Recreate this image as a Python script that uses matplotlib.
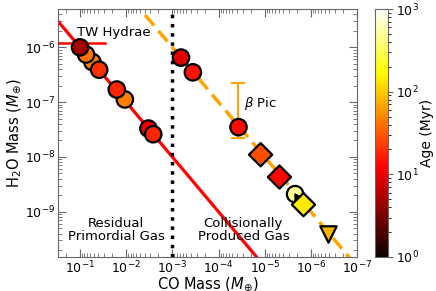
import numpy as np
import matplotlib
matplotlib.use("Agg")
import matplotlib.pyplot as plt
from matplotlib.colors import LogNorm

plt.rcParams["font.family"] = ["DejaVu Sans"]
plt.rcParams["mathtext.fontset"] = "dejavusans"

# residual primordial gas (left of the dotted line)
prim_co = [3.3e-3, 2.6e-3, 1.07e-2, 1.6e-2, 5.4e-2, 7.4e-2, 3.85e-2, 1.0e-1]
prim_h2o = [3.3e-8, 2.6e-8, 1.12e-7, 1.7e-7, 5.4e-7, 7.4e-7, 3.9e-7, 1.0e-6]
prim_age = [11, 18, 45, 18, 45, 40, 20, 5]

# collisionally produced gas, circles
coll_co = [6.5e-4, 3.6e-4, 3.7e-5, 2.2e-6]
coll_h2o = [6.5e-7, 3.5e-7, 3.5e-8, 2.1e-9]
coll_age = [9, 15, 14, 470]

# diamonds
dia_co = [1.23e-5, 4.8e-6, 1.45e-6]
dia_h2o = [1.1e-8, 4.3e-9, 1.35e-9]
dia_age = [28, 13, 140]

# triangle
tri_co = [4.2e-7]
tri_h2o = [3.9e-10]
tri_age = [78]

# small black marker
blk_co = [1.9e-6]
blk_h2o = [1.9e-9]

# TW Hydrae bar and beta Pic error bar
twh_co = [0.3, 0.029]
twh_h2o = [1.2e-6, 1.2e-6]
bpic_co = 3.7e-5
bpic_h2o = 3.5e-8
bpic_err_lo = 1.3e-8
bpic_err_hi = 1.85e-7

norm = LogNorm(vmin=1, vmax=1000)
cmap = "hot"

fig = plt.figure(figsize=(4.36, 2.91), dpi=100)
ax = fig.add_axes([0.133, 0.117, 0.686, 0.852])
cax = fig.add_axes([0.860, 0.117, 0.030, 0.852])

xs = np.logspace(0, -8, 50)
ax.plot(xs, 1e-5 * xs, color="red", lw=2.3, zorder=2)
ax.plot(xs, 1e-3 * xs, color="orange", lw=2.5, ls=(0, (4, 2)), zorder=2)
ax.axvline(1e-3, color="black", lw=2.5, ls=":", zorder=2)

ax.plot(twh_co, twh_h2o, color="red", lw=1.8, zorder=3)
ax.errorbar([bpic_co], [bpic_h2o], yerr=[[bpic_err_lo], [bpic_err_hi]],
            fmt="none", ecolor="orange", elinewidth=1.5, capsize=5, capthick=1.5, zorder=3)

kw = dict(cmap=cmap, norm=norm, s=140, edgecolors="black", linewidths=1.6, zorder=4)
sc = ax.scatter(prim_co, prim_h2o, c=prim_age, marker="o", **kw)
ax.scatter(coll_co, coll_h2o, c=coll_age, marker="o", **kw)
ax.scatter(blk_co, blk_h2o, color="black", marker=">", s=25, zorder=4)
ax.scatter(dia_co, dia_h2o, c=dia_age, marker="D", **kw)
ax.scatter(tri_co, tri_h2o, c=tri_age, marker="v", **kw)

ax.set_xscale("log")
ax.set_yscale("log")
ax.set_xlim(0.3, 1e-7)
ax.set_ylim(1.5e-10, 5e-6)

ax.text(0.118, 1.85e-6, "TW Hydrae", fontsize=9.5, ha="left", va="center")
ax.text(2.8e-5, 9.5e-8, r"$\beta$ Pic", fontsize=9.5, ha="left", va="center")
ax.text(0.194, 0.11, "Residual\nPrimordial Gas", transform=ax.transAxes,
        fontsize=9.5, ha="center", va="center", linespacing=1.0)
ax.text(0.62, 0.11, "Collisionally\nProduced Gas", transform=ax.transAxes,
        fontsize=9.5, ha="center", va="center", linespacing=1.0)

ax.set_xlabel(r"CO Mass ($M_{\oplus}$)", fontsize=10.5, labelpad=-1)
ax.set_ylabel(r"H$_2$O Mass ($M_{\oplus}$)", fontsize=10.5, labelpad=1)
ax.tick_params(which="both", direction="in", top=True, right=True,
               labelsize=9, color="0.4", pad=2)
ax.tick_params(which="major", length=6)
ax.tick_params(which="minor", length=3)
for s in ax.spines.values():
    s.set_color("0.4")

cb = fig.colorbar(sc, cax=cax)
cb.set_label("Age (Myr)", fontsize=10, labelpad=1)
cb.ax.tick_params(labelsize=9, color="0.4", pad=2)
cb.outline.set_edgecolor("0.4")

fig.savefig("out.png", dpi=100)
